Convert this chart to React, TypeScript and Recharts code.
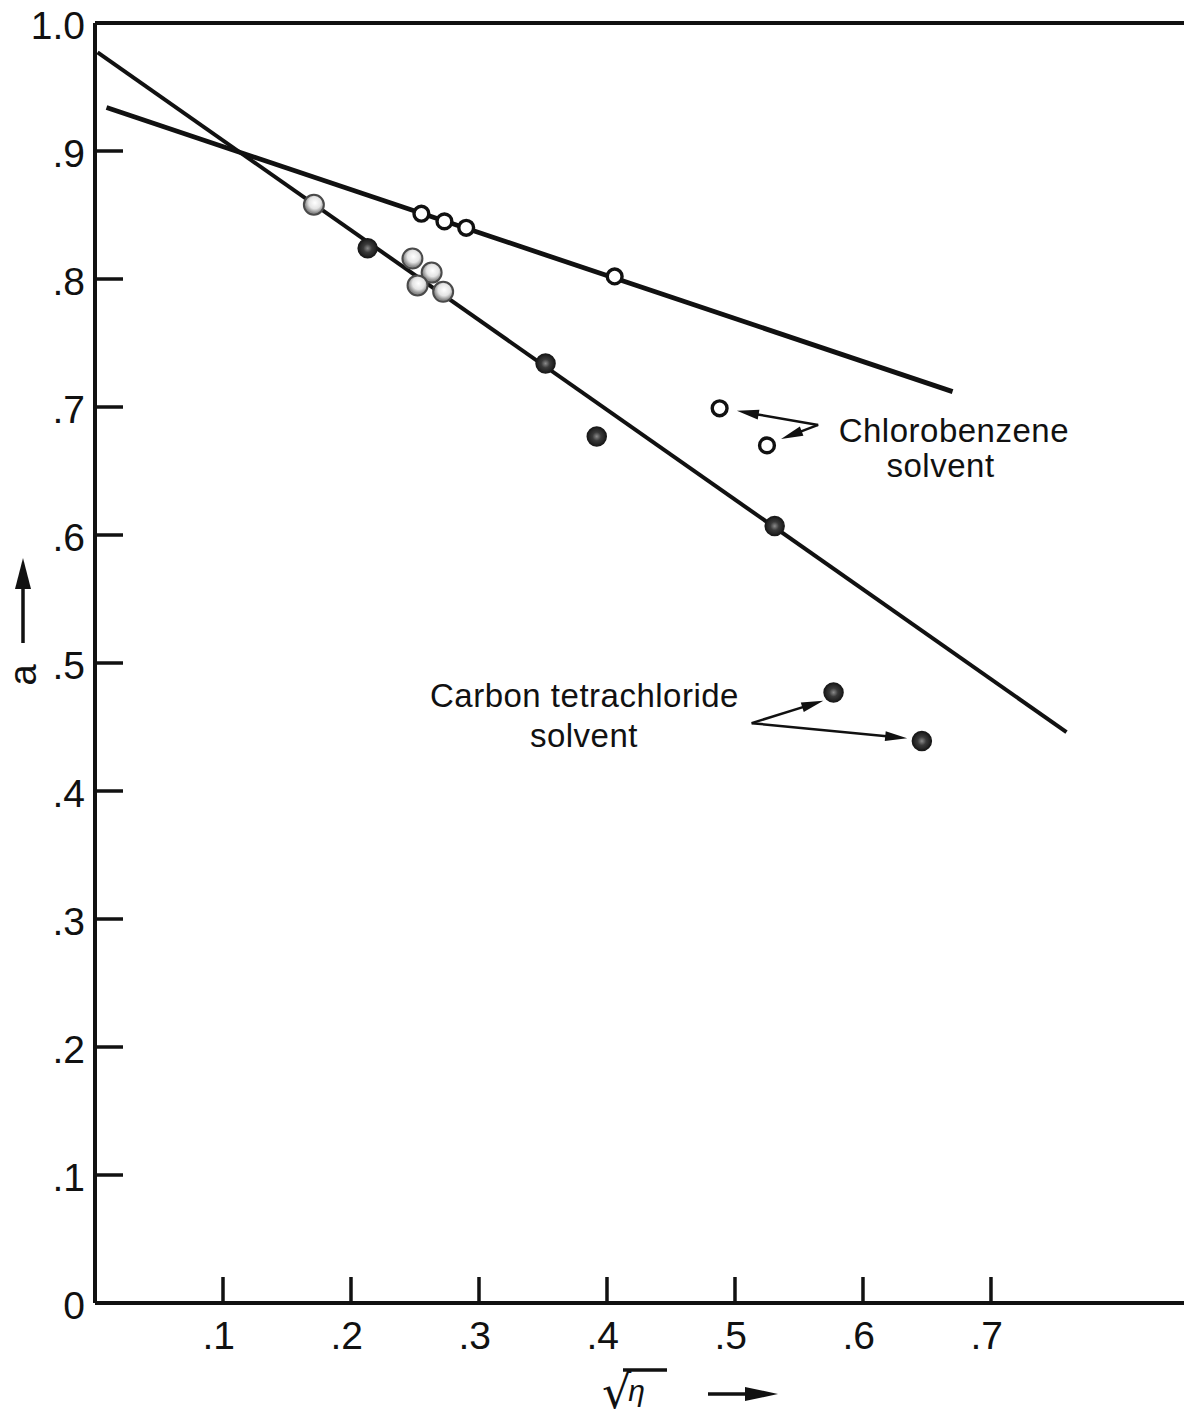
import React from 'react';
import { ScatterChart, Scatter, XAxis, YAxis, ReferenceLine, ReferenceDot } from 'recharts';

// axis ticks
const xTicks = [0.1, 0.2, 0.3, 0.4, 0.5, 0.6, 0.7];
const xTickLabels = ['.1', '.2', '.3', '.4', '.5', '.6', '.7'];
const yTicks = [0, 0.1, 0.2, 0.3, 0.4, 0.5, 0.6, 0.7, 0.8, 0.9, 1.0];
const yTickLabels = ['0', '.1', '.2', '.3', '.4', '.5', '.6', '.7', '.8', '.9', '1.0'];

// measured points (sqrt(eta), a)
const chloroPoints = [
  { x: 0.255, y: 0.851 },
  { x: 0.273, y: 0.845 },
  { x: 0.290, y: 0.840 },
  { x: 0.406, y: 0.802 },
  { x: 0.488, y: 0.699 },
  { x: 0.525, y: 0.670 },
];
const ccl4Points = [
  { x: 0.213, y: 0.824 },
  { x: 0.352, y: 0.734 },
  { x: 0.392, y: 0.677 },
  { x: 0.531, y: 0.607 },
  { x: 0.577, y: 0.477 },
  { x: 0.646, y: 0.439 },
];
const lightPoints = [
  { x: 0.171, y: 0.858 },
  { x: 0.248, y: 0.816 },
  { x: 0.263, y: 0.805 },
  { x: 0.252, y: 0.795 },
  { x: 0.272, y: 0.790 },
];

// fitted lines
const ccl4Fit = [{ x: 0.002, y: 0.977 }, { x: 0.759, y: 0.446 }];
const chloroFit = [{ x: 0.009, y: 0.934 }, { x: 0.670, y: 0.712 }];

// annotation arrows: [from, to]
const chloroArrows = [
  [{ x: 0.565, y: 0.686 }, { x: 0.5015, y: 0.697 }],
  [{ x: 0.565, y: 0.686 }, { x: 0.536, y: 0.675 }],
];
const ccl4Arrows = [
  [{ x: 0.513, y: 0.453 }, { x: 0.569, y: 0.4705 }],
  [{ x: 0.513, y: 0.453 }, { x: 0.6345, y: 0.4412 }],
];
const notes = [
  { text: 'Chlorobenzene', x: 0.671, y: 0.6727 },
  { text: 'solvent', x: 0.6606, y: 0.6451 },
  { text: 'Carbon tetrachloride', x: 0.3824, y: 0.4656 },
  { text: 'solvent', x: 0.382, y: 0.4346 },
];

const INK = '#111';
const FONT = '"Liberation Sans", Arial, sans-serif';

const XTick = (props: any) => {
  const { x, y, index } = props;
  return (
    <g>
      <line x1={x} y1={y - 26} x2={x} y2={y} stroke={INK} strokeWidth={3.5} />
      <text x={x + 12} y={y + 46} textAnchor="end" fontSize={39} fontFamily={FONT} fill={INK}>
        {xTickLabels[index]}
      </text>
    </g>
  );
};

const YTick = (props: any) => {
  const { x, y, index } = props;
  const edge = index === 0 || index === yTicks.length - 1;
  return (
    <g>
      {!edge && <line x1={x} y1={y} x2={x + 28} y2={y} stroke={INK} strokeWidth={3.5} />}
      <text x={x - 10} y={y + 16} textAnchor="end" fontSize={39} fontFamily={FONT} fill={INK}>
        {yTickLabels[index]}
      </text>
    </g>
  );
};

const YTitle = (props: any) => {
  const vb = props.viewBox || { x: 0, y: 23, width: 95, height: 1280 };
  const cx = vb.x + 23;
  const bx = vb.x + 36;
  const ty = vb.y + 652;
  return (
    <g>
      <text
        x={bx}
        y={ty}
        transform={`rotate(-90, ${bx}, ${ty})`}
        textAnchor="middle"
        fontSize={38}
        fontFamily={FONT}
        fill={INK}
      >
        a
      </text>
      <line x1={cx} y1={vb.y + 620} x2={cx} y2={vb.y + 560} stroke={INK} strokeWidth={3.5} />
      <polygon points={`${cx},${vb.y + 535} ${cx - 8},${vb.y + 566} ${cx + 8},${vb.y + 566}`} fill={INK} />
    </g>
  );
};

const XTitle = (props: any) => {
  const vb = props.viewBox || { x: 95, y: 1303, width: 1089, height: 116 };
  const by = vb.y;
  return (
    <g>
      <text x={vb.x + 507} y={by + 105} fontSize={46} fontFamily='"DejaVu Sans", sans-serif' fill={INK}>
        √
        <tspan dx={-3} dy={-7} fontSize={30} fontStyle="italic" fontFamily={FONT}>
          η
        </tspan>
      </text>
      <line x1={vb.x + 528} y1={by + 67} x2={vb.x + 572} y2={by + 67} stroke={INK} strokeWidth={3.5} />
      <line x1={vb.x + 613} y1={by + 91} x2={vb.x + 655} y2={by + 91} stroke={INK} strokeWidth={3.5} />
      <polygon points={`${vb.x + 683},${by + 91} ${vb.x + 650},${by + 84} ${vb.x + 650},${by + 98}`} fill={INK} />
    </g>
  );
};

const arrowShape = (p: any) => {
  const { x1, y1, x2, y2 } = p;
  const dx = x2 - x1;
  const dy = y2 - y1;
  const len = Math.hypot(dx, dy) || 1;
  const ux = dx / len;
  const uy = dy / len;
  const head = 22;
  const half = 5;
  const bx = x2 - ux * head;
  const by = y2 - uy * head;
  const nx = -uy * half;
  const ny = ux * half;
  return (
    <g>
      <line x1={x1} y1={y1} x2={bx + ux * 4} y2={by + uy * 4} stroke={INK} strokeWidth={2.5} />
      <polygon points={`${x2},${y2} ${bx + nx},${by + ny} ${bx - nx},${by - ny}`} fill={INK} />
    </g>
  );
};

const noteShape = (text: string) => (p: any) => (
  <text x={p.cx} y={p.cy} textAnchor="middle" fontSize={33} fontFamily={FONT} fill={INK} letterSpacing={0.5}>
    {text}
  </text>
);

const openDot = (p: any) => (
  <circle cx={p.cx} cy={p.cy} r={7.4} fill="#fff" stroke={INK} strokeWidth={3.4} />
);
const darkDot = (p: any) => (
  <circle cx={p.cx} cy={p.cy} r={9.5} fill="url(#darkFill)" stroke="#1a1a1a" strokeWidth={1.5} />
);
const lightDot = (p: any) => (
  <circle cx={p.cx} cy={p.cy} r={10} fill="url(#lightFill)" stroke="#4a4a4a" strokeWidth={2} />
);
const noDot = () => <g />;

export default function App() {
  return (
    <div style={{ position: 'absolute', left: 0, top: 0, width: 1184, height: 1419, background: '#fff' }}>
      <ScatterChart width={1184} height={1419} margin={{ top: 23, right: 0, bottom: 0, left: 0 }}>
        <defs>
          <radialGradient id="darkFill">
            <stop offset="0%" stopColor="#8a8a8a" />
            <stop offset="45%" stopColor="#3a3a3a" />
            <stop offset="100%" stopColor="#1a1a1a" />
          </radialGradient>
          <radialGradient id="lightFill" cx="55%" cy="40%">
            <stop offset="0%" stopColor="#ffffff" />
            <stop offset="60%" stopColor="#e4e4e4" />
            <stop offset="100%" stopColor="#8c8c8c" />
          </radialGradient>
        </defs>
        <XAxis
          type="number"
          dataKey="x"
          domain={[0, 0.8508]}
          allowDataOverflow
          ticks={xTicks}
          height={116}
          tickSize={0}
          tickMargin={0}
          tickLine={false}
          tick={<XTick />}
          axisLine={{ stroke: INK, strokeWidth: 4 }}
          label={XTitle}
        />
        <YAxis
          type="number"
          dataKey="y"
          domain={[0, 1]}
          allowDataOverflow
          ticks={yTicks}
          width={95}
          tickSize={0}
          tickMargin={0}
          tickLine={false}
          tick={<YTick />}
          axisLine={{ stroke: INK, strokeWidth: 4 }}
          label={YTitle}
        />
        <ReferenceLine y={1} stroke={INK} strokeWidth={4} />
        <Scatter data={ccl4Fit} line={{ stroke: INK, strokeWidth: 4 }} shape={noDot} isAnimationActive={false} />
        <Scatter data={chloroFit} line={{ stroke: INK, strokeWidth: 4.8 }} shape={noDot} isAnimationActive={false} />
        <Scatter data={chloroPoints} shape={openDot} isAnimationActive={false} />
        <Scatter data={ccl4Points} shape={darkDot} isAnimationActive={false} />
        <Scatter data={lightPoints} shape={lightDot} isAnimationActive={false} />
        {[...chloroArrows, ...ccl4Arrows].map((seg, i) => (
          <ReferenceLine key={`a${i}`} segment={seg} shape={arrowShape} />
        ))}
        {notes.map((n, i) => (
          <ReferenceDot key={`n${i}`} x={n.x} y={n.y} r={0} shape={noteShape(n.text)} />
        ))}
      </ScatterChart>
    </div>
  );
}
